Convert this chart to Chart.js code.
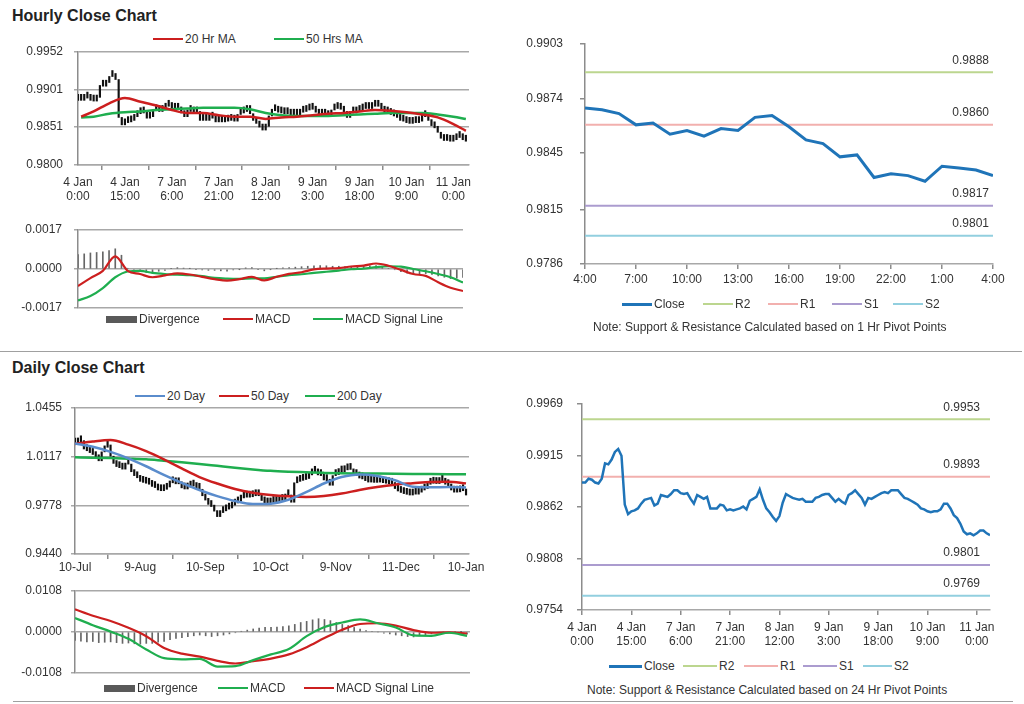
<!DOCTYPE html>
<html>
<head>
<meta charset="utf-8">
<script src="https://cdn.jsdelivr.net/npm/chart.js@4.4.0/dist/chart.umd.min.js"></script>
<style>
  body{margin:0;background:#fff;font-family:"Liberation Sans",Arial,sans-serif;color:#333;}
  #page{position:relative;width:1024px;height:704px;overflow:hidden;background:#fff;}
  canvas{position:absolute;}
  .ttl{position:absolute;left:12px;font-weight:bold;font-size:16px;color:#222;}
  .lg{position:absolute;display:flex;align-items:center;height:14px;font-size:12px;white-space:nowrap;color:#333;}
  .lg i{display:inline-block;width:30px;height:2.5px;margin-right:2px;}
  .lg i.box{height:7px;width:31px;}
  .note{position:absolute;font-size:12px;white-space:nowrap;color:#333;}
  .sep{position:absolute;height:0;border-top:1.5px solid #a0a0a0;}
</style>
</head>
<body>
<div id="page">
  <div class="ttl" style="top:7px">Hourly Close Chart</div>
  <div class="lg" style="left:153px;top:32px"><i style="background:#cc1f1f"></i>20 Hr MA</div>
  <div class="lg" style="left:274px;top:32px"><i style="background:#1fae4f"></i>50 Hrs MA</div>
  <canvas id="cA" width="500" height="162" style="left:0;top:44px"></canvas>
  <canvas id="cB" width="500" height="96" style="left:0;top:222px"></canvas>
  <div class="lg" style="left:106px;top:312px"><i class="box" style="background:#595959"></i>Divergence</div>
  <div class="lg" style="left:223px;top:312px"><i style="background:#cc1f1f"></i>MACD</div>
  <div class="lg" style="left:313px;top:312px"><i style="background:#1fae4f"></i>MACD Signal Line</div>

  <canvas id="cC" width="524" height="262" style="left:500px;top:36px"></canvas>
  <div class="lg" style="left:622px;top:297px"><i style="background:#1f74b8;height:3px"></i>Close</div>
  <div class="lg" style="left:703px;top:297px"><i style="background:#bcd68f"></i>R2</div>
  <div class="lg" style="left:768px;top:297px"><i style="background:#f2b0ae"></i>R1</div>
  <div class="lg" style="left:832px;top:297px"><i style="background:#ab9ccf"></i>S1</div>
  <div class="lg" style="left:893px;top:297px"><i style="background:#92cfdf"></i>S2</div>
  <div class="note" style="left:593px;top:320px">Note: Support &amp; Resistance Calculated based on 1 Hr Pivot Points</div>

  <div class="sep" style="left:0;top:351px;width:1022px"></div>

  <div class="ttl" style="top:359px">Daily Close Chart</div>
  <div class="lg" style="left:135px;top:389px"><i style="background:#5a8ccc"></i>20 Day</div>
  <div class="lg" style="left:219px;top:389px"><i style="background:#cc1f1f"></i>50 Day</div>
  <div class="lg" style="left:305px;top:389px"><i style="background:#1fae4f"></i>200 Day</div>
  <canvas id="cD" width="500" height="176" style="left:0;top:400px"></canvas>
  <canvas id="cE" width="500" height="100" style="left:0;top:583px"></canvas>
  <div class="lg" style="left:104px;top:681px"><i class="box" style="background:#595959"></i>Divergence</div>
  <div class="lg" style="left:218px;top:681px"><i style="background:#1fae4f"></i>MACD</div>
  <div class="lg" style="left:304px;top:681px"><i style="background:#cc1f1f"></i>MACD Signal Line</div>

  <canvas id="cF" width="524" height="252" style="left:500px;top:396px"></canvas>
  <div class="lg" style="left:609px;top:659px"><i style="background:#1f74b8;height:3px;width:33px"></i>Close</div>
  <div class="lg" style="left:683px;top:659px"><i style="background:#bcd68f;width:34px"></i>R2</div>
  <div class="lg" style="left:744px;top:659px"><i style="background:#f2b0ae;width:34px"></i>R1</div>
  <div class="lg" style="left:803px;top:659px"><i style="background:#ab9ccf;width:34px"></i>S1</div>
  <div class="lg" style="left:863px;top:659px"><i style="background:#92cfdf;width:29px"></i>S2</div>
  <div class="note" style="left:587px;top:683px">Note: Support &amp; Resistance Calculated based on 24 Hr Pivot Points</div>

  <div class="sep" style="left:13px;top:701px;width:1000px"></div>
</div>
<script>
// ---- hourly data (4 Jan 0:00 .. 11 Jan 4:00, weekend hours skipped) ----
const hourTickAt = [0, 15, 30, 45, 60, 75, 90, 105, 120];
const hourLabels = [['4 Jan','0:00'],['4 Jan','15:00'],['7 Jan','6:00'],['7 Jan','21:00'],['8 Jan','12:00'],
                    ['9 Jan','3:00'],['9 Jan','18:00'],['10 Jan','9:00'],['11 Jan','0:00']];
const hourlyClose = [
  0.9887,0.9887,0.9891,0.9890,0.9887,0.9886,0.9891,0.9907,0.9906,0.9911,
  0.9919,0.9922,0.9915,0.9864,0.9854,0.9857,0.9858,0.9860,0.9865,0.9869,
  0.9870,0.9871,0.9863,0.9865,0.9874,0.9873,0.9872,0.9875,0.9879,0.9879,
  0.9876,0.9875,0.9876,0.9870,0.9865,0.9874,0.9872,0.9870,0.9872,0.9860,
  0.9860,0.9860,0.9864,0.9863,0.9858,0.9859,0.9858,0.9859,0.9860,0.9862,
  0.9859,0.9868,0.9870,0.9872,0.9880,0.9869,0.9860,0.9856,0.9851,0.9847,
  0.9852,0.9866,0.9875,0.9873,0.9871,0.9870,0.9869,0.9870,0.9867,0.9867,
  0.9867,0.9871,0.9872,0.9874,0.9875,0.9875,0.9871,0.9867,0.9870,0.9867,
  0.9865,0.9874,0.9876,0.9879,0.9875,0.9871,0.9864,0.9871,0.9870,0.9872,
  0.9874,0.9876,0.9877,0.9876,0.9879,0.9879,0.9879,0.9875,0.9871,0.9870,
  0.9868,0.9866,0.9864,0.9860,0.9859,0.9857,0.9856,0.9857,0.9857,0.9859,
  0.9865,0.9865,0.9860,0.9853,0.9850,0.9844,0.9836,0.9833,0.9834,0.9832,
  0.9834,0.9837,0.9837,0.9834,0.9832];
const maHours = [1,5,10,15,20,25,30,35,40,45,50,55,60,65,70,75,80,85,90,95,100,105,110,115,120,124];
const ma20Hr = [0.9865,0.9872,0.9883,0.9890,0.9885,0.9880,0.9874,0.9870,0.9870,0.9867,0.9865,0.9865,0.9862,
                0.9864,0.9865,0.9867,0.9869,0.9870,0.9872,0.9874,0.9873,0.9871,0.9868,0.9864,0.9855,0.9846];
const ma50Hr = [0.9864,0.9865,0.9869,0.9871,0.9872,0.9874,0.9875,0.9876,0.9877,0.9877,0.9877,0.9875,0.9870,
                0.9867,0.9866,0.9866,0.9866,0.9867,0.9868,0.9869,0.9870,0.9870,0.9870,0.9868,0.9865,0.9862];
const hourlyYTicks = [0.9800, 0.9851, 0.9901, 0.9952];

const macdHours = [0,4,8,12,16,20,24,28,32,36,40,44,48,52,56,60,64,68,72,76,80,84,88,92,96,100,104,108,112,116,120,124];
const macdHourly = [-0.00074,-0.00040,-0.00008,0.00055,-0.00008,-0.00022,-0.00036,-0.00028,-0.00019,-0.00024,
                    -0.00034,-0.00044,-0.00051,-0.00044,-0.00034,-0.00050,-0.00034,-0.00021,-0.00014,-0.00002,
                    0.00002,0.00004,0.00011,0.00015,0.00024,0.00014,-0.00004,-0.00022,-0.00030,-0.00058,-0.00082,-0.00096];
const signalHourly = [-0.00137,-0.00118,-0.00083,-0.00036,-0.00011,-0.00008,-0.00017,-0.00022,-0.00025,-0.00027,
                      -0.00031,-0.00039,-0.00042,-0.00043,-0.00041,-0.00041,-0.00034,-0.00027,-0.00023,-0.00017,
                      -0.00012,-0.00007,-0.00001,0.00002,0.00008,0.00012,0.00010,0.00000,-0.00010,-0.00022,-0.00036,-0.00059];
// divergence, every 2nd hour from 0
const divHourly = [0.00063,0.00066,0.00070,0.00072,0.00075,0.00080,0.00088,0.00060,0.00003,-0.00005,
                   -0.00012,-0.00015,-0.00017,-0.00010,-0.00006,0.00002,0.00006,0.00004,0.00002,-0.00002,
                   -0.00004,-0.00006,-0.00006,-0.00008,-0.00009,-0.00004,-0.00001,0.00005,0.00006,-0.00003,
                   -0.00008,-0.00002,0.00002,0.00005,0.00006,0.00008,0.00010,0.00012,0.00014,0.00015,
                   0.00014,0.00012,0.00012,0.00011,0.00012,0.00011,0.00013,0.00014,0.00015,0.00010,
                   0.00003,-0.00003,-0.00012,-0.00018,-0.00022,-0.00022,-0.00020,-0.00024,-0.00030,-0.00036,
                   -0.00042,-0.00040,-0.00037];
const macdHourlyYTicks = [-0.0017, 0, 0.0017];

// ---- last 24 hours ----
const last24Labels = ['4:00','7:00','10:00','13:00','16:00','19:00','22:00','1:00','4:00'];
const last24Close = [0.9869,0.9868,0.9866,0.9860,0.9861,0.9855,0.9857,0.9854,0.9858,0.9857,0.9864,0.9865,0.9859,
                     0.9852,0.9850,0.9843,0.9844,0.9832,0.9834,0.9833,0.9830,0.9838,0.9837,0.9836,0.9833];
const last24YTicks = [0.9786, 0.9815, 0.9845, 0.9874, 0.9903];
const pivotNames = ['R2','R1','S1','S2'];
const pivotColors = ['#bcd68f','#f2b0ae','#ab9ccf','#92cfdf'];
const pivot1Hr = [0.9888, 0.9860, 0.9817, 0.9801];
const pivot24Hr = [0.9953, 0.9893, 0.9801, 0.9769];
const hourlyCloseYTicks = [0.9754, 0.9808, 0.9862, 0.9915, 0.9969];

// ---- daily data (10 Jul .. 10 Jan, trading days) ----
const dayTickAt = [0, 22, 44, 66, 88, 110, 132];
const dayLabels = ['10-Jul','9-Aug','10-Sep','10-Oct','9-Nov','11-Dec','10-Jan'];
const dailyClose = [
  1.0205,1.0220,1.0228,1.0170,1.0158,1.0145,1.0132,1.0110,1.0088,1.0150,
  1.0182,1.0198,1.0120,1.0070,1.0048,1.0040,1.0030,1.0072,1.0065,1.0012,
  0.9985,0.9970,0.9945,0.9938,0.9932,0.9925,0.9910,0.9902,0.9885,0.9880,
  0.9890,0.9906,0.9935,0.9945,0.9928,0.9932,0.9900,0.9892,0.9905,0.9920,
  0.9912,0.9895,0.9890,0.9845,0.9815,0.9785,0.9770,0.9738,0.9700,0.9728,
  0.9740,0.9752,0.9760,0.9780,0.9795,0.9808,0.9830,0.9840,0.9835,0.9838,
  0.9850,0.9845,0.9852,0.9812,0.9795,0.9788,0.9800,0.9798,0.9805,0.9812,
  0.9815,0.9845,0.9850,0.9800,0.9935,0.9945,0.9952,0.9958,0.9965,0.9990,
  1.0010,1.0008,0.9990,0.9985,0.9955,0.9950,0.9918,0.9985,0.9992,1.0010,
  1.0012,1.0025,1.0030,1.0028,0.9990,0.9985,0.9968,0.9962,0.9950,0.9940,
  0.9945,0.9938,0.9942,0.9940,0.9936,0.9932,0.9928,0.9925,0.9895,0.9878,
  0.9868,0.9860,0.9855,0.9850,0.9858,0.9856,0.9870,0.9885,0.9895,0.9925,
  0.9932,0.9935,0.9930,0.9948,0.9955,0.9925,0.9915,0.9885,0.9870,0.9872,
  0.9885,0.9880,0.9850];
const maDays = [0,6,12,18,24,30,36,42,48,54,60,66,72,78,84,90,96,102,108,114,120,126,132];
const ma20Day = [1.0208,1.0185,1.0150,1.0105,1.0050,0.9990,0.9935,0.9885,0.9842,0.9808,0.9787,0.9790,
                 0.9817,0.9870,0.9930,0.9975,0.9993,0.9983,0.9953,0.9908,0.9904,0.9905,0.9902];
const ma50Day = [1.0205,1.0222,1.0232,1.0200,1.0155,1.0098,1.0035,0.9975,0.9930,0.9892,0.9866,0.9850,
                 0.9841,0.9837,0.9843,0.9860,0.9885,0.9906,0.9922,0.9932,0.9941,0.9942,0.9931];
const ma200Day = [1.0112,1.0110,1.0107,1.0103,1.0098,1.0088,1.0078,1.0066,1.0053,1.0040,1.0028,1.0018,
                  1.0012,1.0008,1.0004,1.0001,1.0000,0.9999,0.9998,0.9997,0.9996,0.9995,0.9994];
const dailyYTicks = [0.9440, 0.9778, 1.0117, 1.0455];

const macdDaily = [0.0037,0.0018,0.0001,-0.0018,-0.0046,-0.0069,-0.0072,-0.0071,-0.0091,-0.0090,-0.0074,-0.0059,
                   -0.0045,-0.0011,0.0013,0.0025,0.0033,0.0023,0.0012,-0.0009,-0.0010,-0.0002,-0.0010];
const signalDaily = [0.0060,0.0043,0.0029,0.0011,-0.0011,-0.0042,-0.0057,-0.0065,-0.0076,-0.0083,-0.0077,-0.0070,
                     -0.0059,-0.0040,-0.0016,0.0006,0.0021,0.0023,0.0017,0.0005,-0.0002,-0.0001,-0.0004];
// divergence, every 2nd day from 0
const divDaily = [-0.0022,-0.0024,-0.0026,-0.0025,-0.0028,-0.0027,-0.0026,-0.0028,-0.0030,-0.0029,
                  -0.0031,-0.0032,-0.0030,-0.0030,-0.0027,-0.0025,-0.0020,-0.0017,-0.0015,-0.0012,
                  -0.0010,-0.0008,-0.0010,-0.0012,-0.0010,-0.0008,-0.0005,-0.0002,0.0002,0.0005,
                  0.0008,0.0010,0.0012,0.0012,0.0013,0.0014,0.0016,0.0020,0.0025,0.0028,
                  0.0032,0.0035,0.0033,0.0030,0.0025,0.0020,0.0017,0.0012,0.0008,0.0004,
                  0.0002,0.0000,-0.0003,-0.0005,-0.0008,-0.0010,-0.0012,-0.0013,-0.0010,-0.0008,
                  -0.0005,-0.0002,0.0000,-0.0001,0.0002,0.0001,-0.0006];
const macdDailyYTicks = [-0.0108, 0, 0.0108];

// ---- helpers ----
Chart.defaults.font.family = '"Liberation Sans", Arial, sans-serif';
Chart.defaults.font.size = 12;
Chart.defaults.color = '#333';
Chart.defaults.animation = false;
Chart.defaults.plugins.legend.display = false;
Chart.defaults.plugins.tooltip.enabled = false;

const RED = '#cc1f1f', GREEN = '#1fae4f', BLUE20 = '#5a8ccc', CLOSE = '#1f74b8';

function pts(xs, ys){ return xs.map((x, i) => ({x: x, y: ys[i]})); }
function every(step, ys){ return ys.map((y, i) => ({x: i * step, y: y})); }
// candle bodies: previous close -> close
function bodies(close){
  return close.map((c, i) => { const o = i ? close[i-1] : c; return {x: i, y: [Math.min(o, c), Math.max(o, c)]}; });
}

function yScale(ticks, width, pad, grid){
  return {
    min: ticks[0], max: ticks[ticks.length-1],
    // fixed axis width, and no extra label padding so layout.padding decides the plot top
    afterFit: s => { s.width = width; s.paddingTop = 0; s.paddingBottom = 0; },
    afterBuildTicks: s => { s.ticks = ticks.map(v => ({value: v})); },
    ticks: {callback: v => v.toFixed(4), padding: pad, color: '#333'},
    grid: {color: grid ? '#a8a8a8' : '#8c8c8c', lineWidth: 1.5, drawOnChartArea: grid, tickLength: grid ? 4 : 5},
    border: {color: '#8c8c8c', width: 1.5}
  };
}
function xScale(max, tickAt, labels, height, pad){
  return {
    type: 'linear', min: 0, max: max, offset: false,
    afterFit: s => { s.height = height; },
    afterBuildTicks: s => { s.ticks = tickAt.map(v => ({value: v})); },
    ticks: {callback: (v, i) => labels[i], maxRotation: 0, autoSkip: false, padding: pad, color: '#333'},
    grid: {drawOnChartArea: false, tickLength: 5, color: '#8c8c8c', lineWidth: 1.5},
    border: {color: '#a8a8a8', width: 1.5}
  };
}
function hiddenX(max){ return {type: 'linear', min: 0, max: max, offset: false, display: false}; }
function line(label, data, color, width, smooth, order){
  return {type: 'line', label: label, data: data, borderColor: color, borderWidth: width, pointRadius: 0,
          cubicInterpolationMode: smooth ? 'monotone' : 'default', tension: 0, order: order || 1};
}

const pivotLabels = {
  id: 'pivotLabels',
  afterDatasetsDraw(chart, args, opts){
    if (!opts.values) return;
    const {ctx, chartArea, scales} = chart;
    ctx.save();
    ctx.font = '12px "Liberation Sans", Arial, sans-serif';
    ctx.fillStyle = '#333'; ctx.textAlign = 'right'; ctx.textBaseline = 'middle';
    opts.values.forEach(v => ctx.fillText(v.toFixed(4), chartArea.right + opts.dx, scales.y.getPixelForValue(v) - 12));
    ctx.restore();
  }
};
Chart.register(pivotLabels);

// A: hourly price with MAs
new Chart(document.getElementById('cA'), {
  type: 'bar',
  data: {datasets: [
    line('20 Hr MA', pts(maHours, ma20Hr), RED, 2.5, true, 1),
    line('50 Hrs MA', pts(maHours, ma50Hr), GREEN, 2.5, true, 1),
    {type: 'bar', label: 'Price', data: bodies(hourlyClose), backgroundColor: '#111', barThickness: 1.5, minBarLength: 6, order: 3}
  ]},
  options: {responsive: false, devicePixelRatio: 1,
    layout: {padding: {top: 8, right: 31, left: 0, bottom: 0}},
    scales: {x: xScale(125, hourTickAt, hourLabels, 41, 5), y: yScale(hourlyYTicks, 78, 11, true)}}
});

// B: hourly MACD
new Chart(document.getElementById('cB'), {
  type: 'bar',
  data: {datasets: [
    line('MACD', pts(macdHours, macdHourly), RED, 2.2, true, 1),
    line('MACD Signal Line', pts(macdHours, signalHourly), GREEN, 2.2, true, 1),
    {type: 'bar', label: 'Divergence', data: every(2, divHourly), backgroundColor: '#666', barThickness: 1, order: 3}
  ]},
  options: {responsive: false, devicePixelRatio: 1,
    layout: {padding: {top: 8, right: 37, left: 0, bottom: 10}},
    scales: {x: hiddenX(124), y: yScale(macdHourlyYTicks, 78, 12, true)}}
});

// C: last 24 hours with 1 Hr pivots
new Chart(document.getElementById('cC'), {
  type: 'line',
  data: {datasets: [
    line('Close', every(1, last24Close), CLOSE, 3, false, 1),
    ...pivotNames.map((n, i) => line(n, [{x: 0, y: pivot1Hr[i]}, {x: 24, y: pivot1Hr[i]}], pivotColors[i], 2, false, 2))
  ]},
  options: {responsive: false, devicePixelRatio: 1,
    layout: {padding: {top: 8, right: 31, left: 0, bottom: 0}},
    plugins: {pivotLabels: {values: pivot1Hr, dx: -4}},
    scales: {x: xScale(24, [0,3,6,9,12,15,18,21,24], last24Labels, 34, 3), y: yScale(last24YTicks, 85, 17, false)}}
});

// D: daily price with MAs
new Chart(document.getElementById('cD'), {
  type: 'bar',
  data: {datasets: [
    line('20 Day', pts(maDays, ma20Day), BLUE20, 2.5, true, 1),
    line('50 Day', pts(maDays, ma50Day), RED, 2.5, true, 1),
    line('200 Day', pts(maDays, ma200Day), GREEN, 2.5, true, 1),
    {type: 'bar', label: 'Price', data: bodies(dailyClose), backgroundColor: '#111', barThickness: 1.5, minBarLength: 6, order: 3}
  ]},
  options: {responsive: false, devicePixelRatio: 1,
    layout: {padding: {top: 8, right: 31, left: 0, bottom: 0}},
    scales: {x: xScale(133, dayTickAt, dayLabels, 22, 1), y: yScale(dailyYTicks, 75, 9, true)}}
});

// E: daily MACD
new Chart(document.getElementById('cE'), {
  type: 'bar',
  data: {datasets: [
    line('MACD', pts(maDays, macdDaily), GREEN, 2.2, true, 1),
    line('MACD Signal Line', pts(maDays, signalDaily), RED, 2.2, true, 1),
    {type: 'bar', label: 'Divergence', data: every(2, divDaily), backgroundColor: '#666', barThickness: 1, order: 3}
  ]},
  options: {responsive: false, devicePixelRatio: 1,
    layout: {padding: {top: 8, right: 30, left: 0, bottom: 10}},
    scales: {x: hiddenX(133), y: yScale(macdDailyYTicks, 75, 9, true)}}
});

// F: hourly close with 24 Hr pivots
new Chart(document.getElementById('cF'), {
  type: 'line',
  data: {datasets: [
    line('Close', every(1, hourlyClose), CLOSE, 2.5, false, 1),
    ...pivotNames.map((n, i) => line(n, [{x: 0, y: pivot24Hr[i]}, {x: 124, y: pivot24Hr[i]}], pivotColors[i], 2, false, 2))
  ]},
  options: {responsive: false, devicePixelRatio: 1,
    layout: {padding: {top: 8, right: 34, left: 0, bottom: 0}},
    plugins: {pivotLabels: {values: pivot24Hr, dx: -10}},
    scales: {x: xScale(124, hourTickAt, hourLabels, 38, 5), y: yScale(hourlyCloseYTicks, 82, 14, false)}}
});
</script>
</body>
</html>
